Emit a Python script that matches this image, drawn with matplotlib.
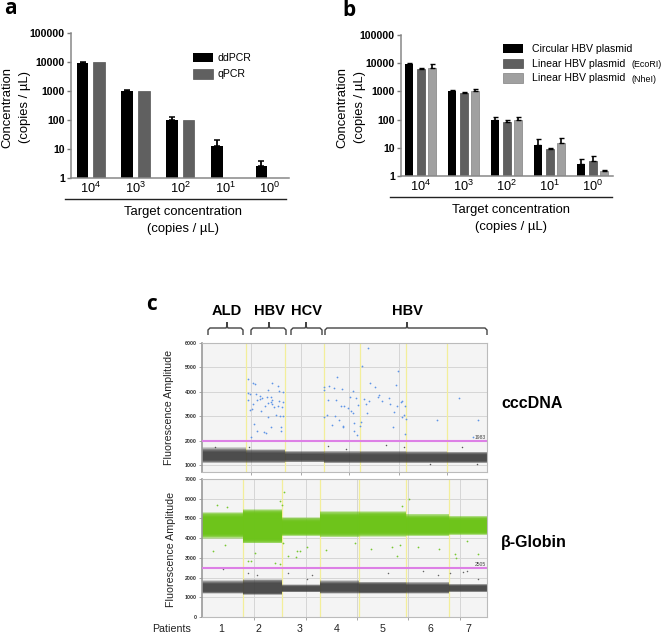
import matplotlib
matplotlib.use("Agg")
import matplotlib.pyplot as plt
from matplotlib.patches import PathPatch
from matplotlib.path import Path

plt.rcParams['font.family'] = ['Liberation Sans', 'DejaVu Sans']

W, H = 670, 635

# panel a
target_labels = ["$\\mathregular{10^{4}}$", "$\\mathregular{10^{3}}$", "$\\mathregular{10^{2}}$",
                 "$\\mathregular{10^{1}}$", "$\\mathregular{10^{0}}$"]
ytick_vals = [1, 10, 100, 1000, 10000, 100000]
ytick_labels = ["1", "10", "100", "1000", "10000", "100000"]
ddpcr = [9500, 1000, 100, 13, 2.6]
ddpcr_top = [10000, 1090, 122, 21, 3.9]
qpcr = [10000, 1020, 102]

# panel b
circular = [9500, 1000, 100, 13, 2.6]
circular_top = [10000, 1090, 122, 21, 3.9]
ecori = [6200, 850, 80, 9, 3.3]
ecori_top = [6500, 950, 97, 10, 5]
nhei = [6700, 1000, 100, 14.5, 1.5]
nhei_top = [9000, 1250, 125, 22, 1.6]

# panel c, x is position along the plate strip
ccc_wells = [0, 44, 83, 122, 158, 204, 245, 285]
ccc_gridx = [49, 99, 147, 197, 245]
ccc_gray_outer = [(1090, 1720), (1090, 1650), (1110, 1580), (1070, 1580), (1070, 1580), (1070, 1560), (1070, 1550)]
ccc_gray_core = [(1200, 1520), (1200, 1490), (1210, 1440), (1180, 1420), (1180, 1430), (1180, 1420), (1180, 1420)]
ccc_threshold = 1983
blue_x = [46, 51, 53, 70, 76, 66, 77, 81, 46, 48, 54, 58, 60, 65, 69, 55, 46, 58, 70, 77, 81, 51,
          66, 69, 70, 63, 72, 76, 80, 50, 48, 59, 74, 78, 81, 66, 52, 69, 79, 55, 79, 62, 64, 49,
          122, 122, 127, 135, 132, 140, 126, 134, 139, 142, 122, 125, 133, 137, 130, 141,
          166, 160, 196, 168, 173, 194, 151, 177, 176, 187, 148, 154, 162, 167, 180, 200, 199,
          164, 188, 156, 195, 203, 146, 149, 151, 165, 192, 202, 200, 204, 152, 159, 141, 158,
          191, 152, 155, 203, 235, 257, 276, 271]
blue_amp = [4536, 4373, 4305, 4346, 4250, 4074, 4019, 3978, 3951, 3924, 3897, 3829, 3761, 3774, 3802,
            3666, 3652, 3693, 3666, 3625, 3584, 3516, 3557, 3584, 3489, 3421, 3394, 3407, 3394, 3298,
            3244, 3217, 3040, 3026, 3013, 2958, 2673, 2537, 2537, 2401, 2387, 2360, 2319, 2156,
            4210, 4074, 4237, 4604, 4142, 4101, 3652, 3666, 3407, 3407, 2986, 3067, 3026, 2850, 2659, 2550,
            5787, 5053, 4849, 4346, 4196, 4264, 4019, 3856, 3788, 3747, 3788, 3734, 3693, 3638, 3611,
            3611, 3570, 3516, 3502, 3448, 3407, 3434, 3326, 3203, 3122, 3122, 3176, 3054, 2972, 2877,
            2727, 2754, 2605, 2618, 2564, 2401, 2238, 2265, 2836, 3761, 2836, 2156]
ccc_gray_x = [13, 47, 126, 184, 144, 202, 260, 228, 275]
ccc_gray_amp = [1734, 1734, 1762, 1816, 1653, 1721, 1721, 1027, 1027]

bg_wells = [0, 41, 80, 118, 157, 204, 247, 285]
bg_gridx = [52, 104, 155, 206, 258]
bg_green_outer = [(3980, 5320), (3730, 5480), (4110, 5070), (4040, 5370), (4060, 5380), (4090, 5230), (4150, 5140)]
bg_green_core = [(4230, 5050), (3950, 5230), (4270, 4820), (4280, 5090), (4290, 5110), (4290, 4980), (4320, 4900)]
bg_gray_outer = [(1180, 1860), (1120, 1920), (1250, 1660), (1180, 1860), (1180, 1800), (1180, 1770), (1260, 1680)]
bg_gray_core = [(1300, 1660), (1220, 1720), (1340, 1540), (1310, 1660), (1290, 1640), (1300, 1610), (1350, 1560)]
bg_threshold = 2505
green_x = [15, 25, 82, 78, 80, 53, 11, 23, 46, 49, 73, 78, 86, 94, 95, 98, 81, 124, 105,
           207, 200, 169, 195, 190, 198, 216, 237, 253, 254, 276, 265, 153]
green_amp = [5695, 5576, 6340, 5900, 5660, 3237, 3356, 3661, 2848, 2848, 2729, 2678, 3119, 3068, 3356,
             3356, 3746, 3407, 3576, 6000, 5644, 3458, 3102, 3576, 3661, 3526, 3458, 3187, 3017, 3204, 3831, 3746]
gray_x = [21, 46, 55, 86, 110, 105, 186, 221, 236, 248, 261, 265, 276]
gray_amp = [2458, 2254, 2136, 2220, 2136, 1915, 2254, 2339, 2136, 2254, 2305, 2339, 1915]

patient_labels = ["1", "2", "3", "4", "5", "6", "7"]
patient_px = [221, 258, 300, 337, 383, 430, 468]


def px_axes(left, top, right, bottom):
    return fig.add_axes([left / W, 1 - bottom / H, (right - left) / W, (bottom - top) / H])


def style_log(ax):
    ax.set_yscale("log")
    ax.set_ylim(1, 100000)
    ax.set_yticks(ytick_vals)
    ax.set_yticklabels(ytick_labels, fontsize=7.6, fontweight="bold")
    ax.set_xticks(range(5))
    ax.set_xticklabels(target_labels, fontsize=9.2)
    ax.tick_params(axis="x", length=0, pad=2)
    ax.tick_params(axis="y", which="major", length=3, width=1, color="#777777", pad=1.5)
    ax.tick_params(axis="y", which="minor", length=1.5, width=0.6, color="#888888")
    for s in ["top", "right"]:
        ax.spines[s].set_visible(False)
    for s in ["left", "bottom"]:
        ax.spines[s].set_color("#888888")
        ax.spines[s].set_linewidth(1.1)


def band(ax, wells, outer, core, color, alpha, steps=10):
    # stacked thin layers so the droplet cloud fades out at its edges
    for k in range(steps):
        f = k / (steps - 1)
        lows = [o[0] + (c[0] - o[0]) * f for o, c in zip(outer, core)]
        highs = [o[1] + (c[1] - o[1]) * f for o, c in zip(outer, core)]
        ax.fill_between(wells, lows + lows[-1:], highs + highs[-1:], step="post", color=color,
                        alpha=alpha, lw=0, zorder=2)


def style_plate(ax, wells, gridx, yticks, ylim, threshold, thr_label, thr_y):
    ax.set_facecolor("#f4f4f4")
    ax.set_xlim(0, 285)
    ax.set_ylim(*ylim)
    ax.set_yticks(yticks)
    ax.set_yticklabels([str(v) for v in yticks], fontsize=3.8, fontweight="bold", color="#333333")
    ax.set_xticks(gridx)
    ax.set_xticklabels([])
    ax.tick_params(axis="both", length=2, width=0.6, color="#999999", pad=1.5)
    ax.grid(True, color="#d6d6d6", lw=0.7, zorder=1)
    ax.set_axisbelow(True)
    for s in ax.spines.values():
        s.set_color("#bbbbbb")
        s.set_linewidth(0.8)
    ax.spines["left"].set_color("#999999")
    ax.spines["left"].set_linewidth(1.2)
    for x in wells[1:-1]:
        ax.axvline(x, color="#f3ee9a", lw=0.9, zorder=1.5)
    ax.axhline(threshold, color="#dd80e6", lw=1.5, zorder=5)
    ax.text(284, thr_y, thr_label, fontsize=3.6, ha="right", va="bottom", color="#444444", zorder=6)


fig = plt.figure(figsize=(W / 100, H / 100), dpi=100)

# a
ax_a = px_axes(71, 33, 289, 178)
ax_a.bar([i - 0.185 for i in range(5)], ddpcr, width=0.26, color="black", label="ddPCR",
         yerr=[[0] * 5, [t - v for t, v in zip(ddpcr_top, ddpcr)]], ecolor="black",
         error_kw=dict(capsize=2.5, lw=1.3, capthick=1.1))
ax_a.bar([i + 0.185 for i in range(3)], qpcr, width=0.26, color="#606060", edgecolor="#555555",
         lw=0.5, label="qPCR")
ax_a.set_xlim(-0.443, 4.43)
style_log(ax_a)
ax_a.legend(loc="upper left", bbox_to_anchor=((193 - 71) / 218, (178 - 53) / 145), frameon=False, fontsize=7.6,
            handlelength=1.9, handleheight=1.0, labelspacing=0.55, handletextpad=0.45, borderpad=0, borderaxespad=0)

# b
ax_b = px_axes(401, 35, 613, 176)
ax_b.bar([i - 0.271 for i in range(5)], circular, width=0.186, color="black", label="Circular HBV plasmid",
         yerr=[[0] * 5, [t - v for t, v in zip(circular_top, circular)]], ecolor="black",
         error_kw=dict(capsize=1.8, lw=1.2, capthick=1))
ax_b.bar(range(5), ecori, width=0.186, color="#5f5f5f", edgecolor="#4c4c4c", lw=0.5, label="Linear HBV plasmid",
         yerr=[[0] * 5, [t - v for t, v in zip(ecori_top, ecori)]], ecolor="black",
         error_kw=dict(capsize=1.8, lw=1.2, capthick=1))
ax_b.bar([i + 0.271 for i in range(5)], nhei, width=0.186, color="#a0a0a0", edgecolor="#808080", lw=0.5,
         label="Linear HBV plasmid",
         yerr=[[0] * 5, [t - v for t, v in zip(nhei_top, nhei)]], ecolor="black",
         error_kw=dict(capsize=1.8, lw=1.2, capthick=1))
ax_b.set_xlim(-0.458, 4.47)
style_log(ax_b)
ax_b.legend(loc="upper left", bbox_to_anchor=((503 - 401) / 212, (176 - 44) / 141), frameon=False, fontsize=7.6,
            handlelength=1.9, handleheight=1.0, labelspacing=0.4, handletextpad=0.85, borderpad=0, borderaxespad=0)

# c top
ax_c1 = px_axes(202, 343, 487, 472)
band(ax_c1, ccc_wells, ccc_gray_outer, ccc_gray_core, "#3a3a3a", 0.2)
ax_c1.scatter(blue_x, blue_amp, s=1.6, color="#5f95e6", lw=0, zorder=6)
ax_c1.scatter(ccc_gray_x, ccc_gray_amp, s=1.2, color="#555555", lw=0, zorder=3)
style_plate(ax_c1, ccc_wells, ccc_gridx, [1000, 2000, 3000, 4000, 5000, 6000], (713, 6000), ccc_threshold, "1983", 2010)

# c bottom
ax_c2 = px_axes(202, 479, 487, 617)
band(ax_c2, bg_wells, bg_green_outer, bg_green_core, "#6cc417", 0.3)
band(ax_c2, bg_wells, bg_gray_outer, bg_gray_core, "#3a3a3a", 0.2)
ax_c2.scatter(green_x, green_amp, s=1.6, color="#78c832", lw=0, zorder=3)
ax_c2.scatter(gray_x, gray_amp, s=1.2, color="#666666", lw=0, zorder=3)
style_plate(ax_c2, bg_wells, bg_gridx, [0, 1000, 2000, 3000, 4000, 5000, 6000, 7000], (0, 7000), bg_threshold, "2505", 2530)

# everything laid out in picture pixels goes on a cover axes
ov = fig.add_axes([0, 0, 1, 1])
ov.set_xlim(0, W)
ov.set_ylim(H, 0)
ov.axis("off")

for x, y, s in [(4, 9, "a"), (342, 11, "b"), (146, 304, "c")]:
    ov.text(x, y, s, fontsize=15, fontweight="bold", family="Open Sans", ha="left", va="center")

for x0, x1, y in [(65, 286, 199), (390, 612, 197)]:
    ov.plot([x0, x1], [y, y], color="#222222", lw=1)

for xc, y1, y2 in [(182.7, 212, 229), (511, 210, 227)]:
    ov.text(xc, y1, "Target concentration", fontsize=9.4, ha="center", va="center")
    ov.text(xc, y2, "(copies / µL)", fontsize=9.4, ha="center", va="center")

for x1, x2, yc in [(7, 25, 107), (342, 360, 107)]:
    ov.text(x1, yc, "Concentration", fontsize=9.4, rotation=90, ha="center", va="center")
    ov.text(x2, yc, "(copies / µL)", fontsize=9.4, rotation=90, ha="center", va="center")

ov.text(631, 64.5, "(EcoRI)", fontsize=6.4, ha="left", va="center")
ov.text(631, 79.5, "(NheI)", fontsize=6.4, ha="left", va="center")

# curly brackets over the wells
for x0, xm, x1, name in [(208, 227, 243, "ALD"), (251, 269, 286, "HBV"),
                         (291, 306, 322, "HCV"), (325, 407, 487, "HBV")]:
    verts = [(x0, 335), (x0, 330), (x0 + 2, 328), (xm - 1, 328), (xm, 326), (xm, 322),
             (xm, 326), (xm + 1, 328), (x1 - 2, 328), (x1, 330), (x1, 335)]
    ov.add_patch(PathPatch(Path(verts), fill=False, edgecolor="#444444", lw=1))
    ov.text(xm, 311, name, fontsize=10.5, fontweight="bold", ha="center", va="center")

ov.text(169, 407, "Fluorescence Amplitude", fontsize=7.7, rotation=90, ha="center", va="center", color="#222222")
ov.text(171, 549, "Fluorescence Amplitude", fontsize=7.7, rotation=90, ha="center", va="center", color="#222222")
ov.text(501, 403, "cccDNA", fontsize=11.5, fontweight="bold", ha="left", va="center")
ov.text(501, 543, "β-Globin", fontsize=11.5, fontweight="bold", ha="left", va="center")
ov.text(172, 629, "Patients", fontsize=7.7, ha="center", va="center", color="#222222")
for x, s in zip(patient_px, patient_labels):
    ov.text(x, 629, s, fontsize=7.7, ha="center", va="center", color="#222222")

fig.savefig("out.png", dpi=100)
